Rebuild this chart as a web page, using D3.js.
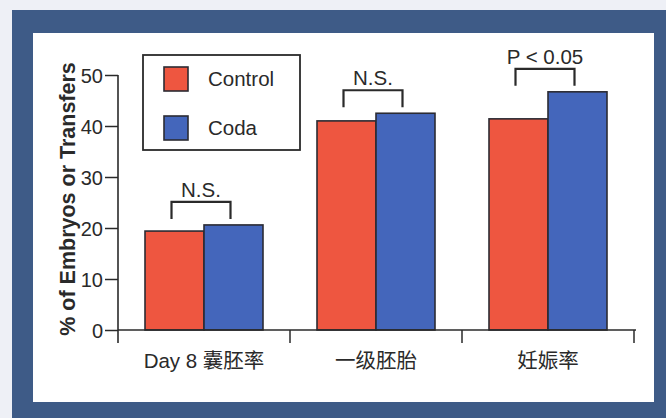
<!DOCTYPE html>
<html><head><meta charset="utf-8">
<script src="https://cdn.jsdelivr.net/npm/d3@7/dist/d3.min.js"></script>
<style>
html,body{margin:0;padding:0;background:#eef0f6;}
svg{display:block;}
text{font-family:"Liberation Sans",Arial,"Noto Sans CJK SC",sans-serif;fill:#2a2a2a;}
</style></head>
<body>
<svg id="chart" width="666" height="418"></svg>
<script>
const categories = ["Day 8 囊胚率", "一级胚胎", "妊娠率"];
const seriesNames = ["Control", "Coda"];
const controlValues = [19.4, 41.0, 41.4];
const codaValues = [20.6, 42.5, 46.7];
const sigLabels = ["N.S.", "N.S.", "P < 0.05"];
const yTicks = [0, 10, 20, 30, 40, 50];
const colors = ["#ee5640", "#4466bb"];

const svg = d3.select("#chart");
// frame
svg.append("rect").attr("x",12).attr("y",10).attr("width",654).attr("height",408).attr("fill","#3e5b87");
svg.append("rect").attr("x",33).attr("y",33).attr("width",621).attr("height",369).attr("fill","#ffffff");

const y = d3.scaleLinear().domain([0,50]).range([330,75]);
const x0 = d3.scaleBand().domain(d3.range(categories.length)).range([118,634]).paddingInner(0.314).paddingOuter(0.157);
const x1 = d3.scaleBand().domain(seriesNames).range([0,x0.bandwidth()]);

const data = categories.map((c,i)=>({cat:i, vals:[controlValues[i], codaValues[i]]}));

// bars
const g = svg.append("g");
data.forEach(d=>{
  d.vals.forEach((v,j)=>{
    g.append("rect")
      .attr("x", x0(d.cat)+x1(seriesNames[j]))
      .attr("y", y(v))
      .attr("width", x1.bandwidth())
      .attr("height", y(0)-y(v))
      .attr("fill", colors[j])
      .attr("stroke","#2b2b33").attr("stroke-width",1.6);
  });
});

// y axis
const yAxis = d3.axisLeft(y).tickValues(yTicks).tickSize(13).tickPadding(2).tickSizeOuter(0);
const ya = svg.append("g").attr("transform","translate(118,0)").call(yAxis);
ya.select(".domain").remove();
ya.selectAll("line").attr("stroke","#2a2a2a").attr("stroke-width",1.5);
ya.selectAll("text").attr("font-size",20).attr("fill","#2a2a2a").attr("dy","0.36em");
svg.append("line").attr("x1",118).attr("x2",118).attr("y1",y(50)).attr("y2",343).attr("stroke","#2a2a2a").attr("stroke-width",1.6);

// x axis
svg.append("line").attr("x1",118).attr("x2",636).attr("y1",y(0)).attr("y2",y(0)).attr("stroke","#2a2a2a").attr("stroke-width",1.5);
const step = x0.step();
const boundaries = d3.range(categories.length+1).map(i=> i<categories.length ? x0(i)-step*x0.paddingInner()/2 : x0(i-1)+x0.bandwidth()+step*x0.paddingInner()/2);
boundaries.slice(1).forEach(b=>{
  svg.append("line").attr("x1",b).attr("x2",b).attr("y1",y(0)).attr("y2",343).attr("stroke","#2a2a2a").attr("stroke-width",1.5);
});
categories.forEach((c,i)=>{
  svg.append("text").attr("x", x0(i)+x0.bandwidth()/2).attr("y",368)
    .attr("text-anchor","middle").attr("font-size",20.5).text(c);
});

// significance brackets
data.forEach((d,i)=>{
  const top = y(d3.max(d.vals)) - 6;
  const xl = x0(d.cat)+x1.bandwidth()/2 - 3;
  const xr = x0(d.cat)+x1.bandwidth()+x1.bandwidth()/2 - 3;
  const h = 17;
  svg.append("path").attr("d",`M${xl},${top}V${top-h}H${xr}V${top}`)
    .attr("fill","none").attr("stroke","#2a2a2a").attr("stroke-width",2.2);
  svg.append("text").attr("x",(xl+xr)/2).attr("y",top-h-5).attr("text-anchor","middle")
    .attr("font-size",20.5).text(sigLabels[i]);
});

// legend
svg.append("rect").attr("x",143).attr("y",55).attr("width",157).attr("height",95)
  .attr("fill","#fff").attr("stroke","#2a2a2a").attr("stroke-width",1.8);
seriesNames.forEach((s,j)=>{
  const ly = 67 + j*49;
  svg.append("rect").attr("x",164).attr("y",ly).attr("width",24).attr("height",24)
    .attr("fill",colors[j]).attr("stroke","#2b2b33").attr("stroke-width",1.6);
  svg.append("text").attr("x",208).attr("y",ly+12).attr("dy","0.36em").attr("font-size",20.5).text(s);
});

// y label
svg.append("text").attr("transform","translate(75,199) rotate(-90)")
  .attr("text-anchor","middle").attr("font-size",21.5).attr("font-weight","bold")
  .text("% of Embryos or Transfers");
</script>
</body></html>
